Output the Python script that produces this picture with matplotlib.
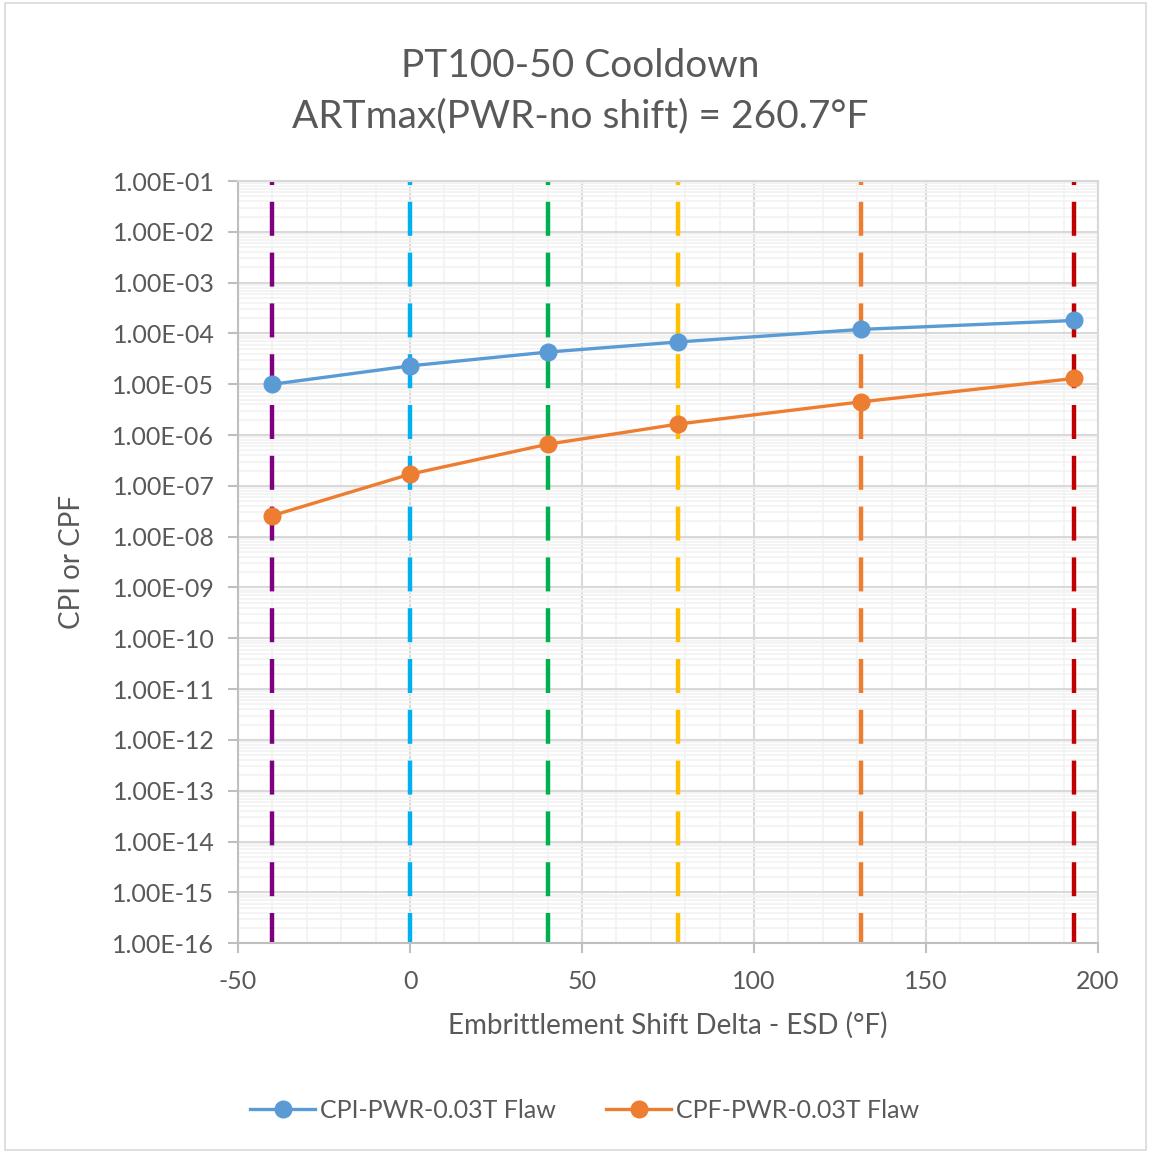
import matplotlib
matplotlib.use("Agg")
import matplotlib.pyplot as plt
from matplotlib.ticker import FixedLocator, LogLocator, NullFormatter, FuncFormatter, MultipleLocator
from matplotlib.patches import Rectangle

plt.rcParams['font.family'] = ['Lato', 'DejaVu Sans']
plt.rcParams['axes.unicode_minus'] = False

esd = [-40, 0, 40, 78, 131, 193]
cpi = [1.0e-5, 2.3e-5, 4.3e-5, 6.8e-5, 1.2e-4, 1.8e-4]
cpf = [2.6e-8, 1.7e-7, 6.6e-7, 1.65e-6, 4.5e-6, 1.3e-5]
vline_x = [-40, 0, 40, 78, 131, 193]
vline_colors = ['#7F007F', '#00B0F0', '#00B050', '#FFC000', '#ED7D31', '#C00000']
title = "PT100-50 Cooldown\nARTmax(PWR-no shift) = 260.7°F"
xlabel = "Embrittlement Shift Delta - ESD (°F)"
ylabel = "CPI or CPF"
series_names = ["CPI-PWR-0.03T Flaw", "CPF-PWR-0.03T Flaw"]
series_colors = ['#5B9BD5', '#ED7D31']

txt = '#595959'
fig = plt.figure(figsize=(11.51, 11.53), dpi=100)
fig.patches.append(Rectangle((0.004, 0.003), 0.992, 0.994, transform=fig.transFigure,
                             fill=False, edgecolor='#d9d9d9', linewidth=1.2))
ax = fig.add_axes([0.2068, 0.182, 0.7472, 0.661])
ax.set_yscale('log')
ax.set_xlim(-50, 200)
ax.set_ylim(1e-16, 1e-1)

ax.xaxis.set_major_locator(MultipleLocator(50))
ax.xaxis.set_minor_locator(MultipleLocator(10))
ax.yaxis.set_major_locator(FixedLocator([10.0**e for e in range(-16, 0)]))
ax.yaxis.set_minor_locator(LogLocator(base=10, subs=range(2, 10), numticks=100))
ax.yaxis.set_minor_formatter(NullFormatter())
ax.yaxis.set_major_formatter(FuncFormatter(lambda v, p: "%.2E" % v))

ax.grid(which='major', color='#d9d9d9', linewidth=1.5)
ax.grid(which='minor', color='#f2f2f2', linewidth=1.2)
ax.set_axisbelow(True)

ax.spines['top'].set_color('#d9d9d9')
ax.spines['right'].set_color('#d9d9d9')
ax.spines['left'].set_color('#bfbfbf')
ax.spines['bottom'].set_color('#bfbfbf')
for s in ax.spines.values():
    s.set_linewidth(1.5)

ax.tick_params(axis='both', which='major', labelsize=18, colors=txt, length=7, width=1.5)
ax.tick_params(axis='y', which='major', color='#bfbfbf', pad=10)
ax.tick_params(axis='x', which='major', color='#bfbfbf', pad=12)
ax.tick_params(which='minor', length=0)

for xv, c in zip(vline_x, vline_colors):
    ax.axvline(xv, color=c, linewidth=3.2, linestyle=(0.9, (7.65, 3.78)), zorder=2)

ax.plot(esd, cpi, color=series_colors[0], linewidth=2.4, marker='o', markersize=12,
        label=series_names[0], zorder=4)
ax.plot(esd, cpf, color=series_colors[1], linewidth=2.4, marker='o', markersize=12,
        label=series_names[1], zorder=4)

fig.text(0.504, 0.921, title, fontsize=28, color=txt, ha='center', va='center', linespacing=1.5)
ax.set_xlabel(xlabel, fontsize=20, color=txt, labelpad=14)
ax.set_ylabel(ylabel, fontsize=20, color=txt, labelpad=20)

leg = fig.legend(loc='center', bbox_to_anchor=(0.508, 0.037), ncol=2, frameon=False,
                 fontsize=18, labelcolor=txt, handlelength=2.6, columnspacing=2.0, handletextpad=0.2)

fig.savefig('out.png', dpi=100)
